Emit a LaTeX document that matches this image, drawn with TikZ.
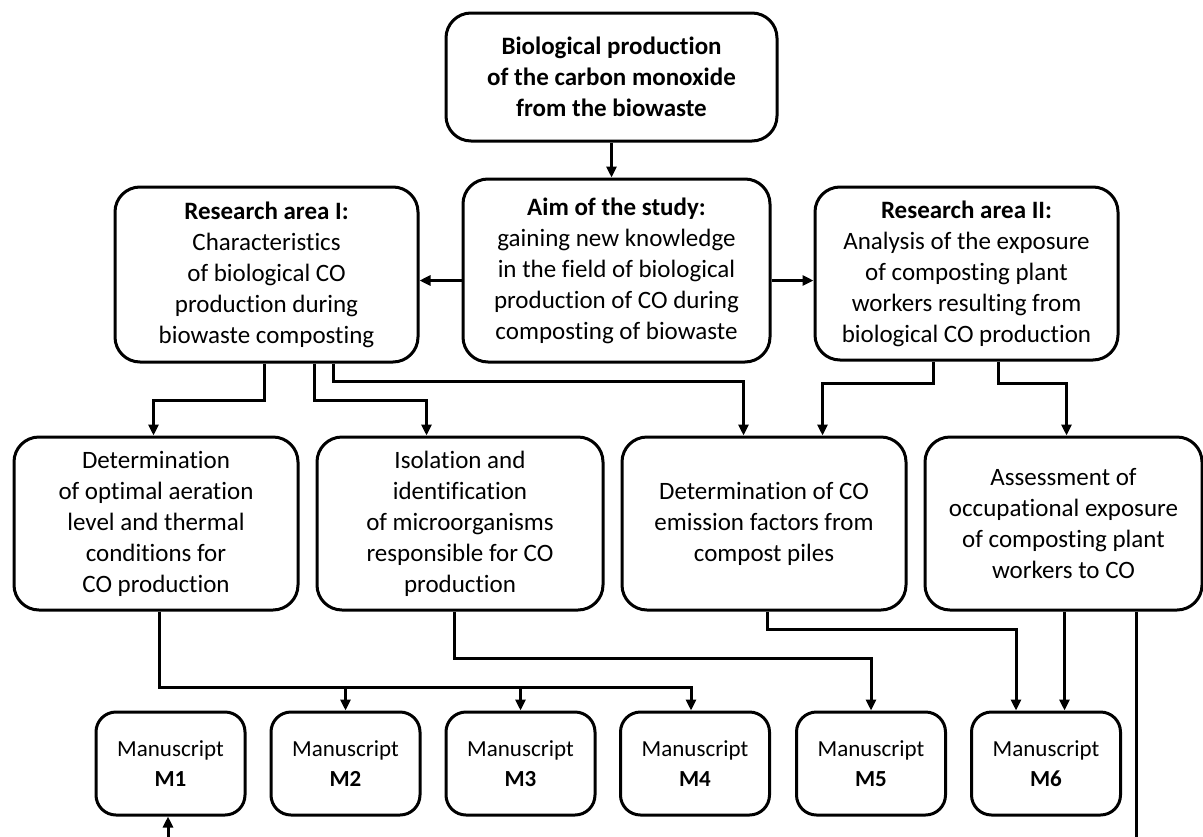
\documentclass[tikz,border=0pt]{standalone}
\usepackage{fontspec}
\setmainfont[Ligatures=NoCommon]{Carlito}
\usetikzlibrary{arrows.meta,calc}
\begin{document}
\begin{tikzpicture}[x=1pt,y=-1pt,
 box/.style={draw, line width=3pt, rounded corners=25pt, align=center, inner sep=0pt, font=\fontsize{25}{31}\selectfont},
 mbox/.style={box, rounded corners=20pt, minimum width=149pt, minimum height=103pt, font=\fontsize{23}{30}\selectfont},
 arr/.style={line width=3pt, -{Triangle[length=11pt,width=10pt]}},
 ln/.style={line width=3pt}]
\useasboundingbox (0,0) rectangle (1203,836);
\fill[white] (0,0) rectangle (1203,836);

\node[box, minimum width=331pt, minimum height=128pt, font=\fontsize{25}{31}\selectfont\bfseries] (top) at (611.5,77)
 {Biological production\\of the carbon monoxide\\from the biowaste};
\node[box, minimum width=307pt, minimum height=183pt] (aim) at (616.5,270.5)
 {\textbf{Aim of the study:}\\gaining new knowledge\\in the field of biological\\production of CO during\\composting of biowaste};
\node[box, minimum width=303pt, minimum height=175pt] (ra1) at (266.5,274.5)
 {\textbf{Research area I:}\\Characteristics\\of biological CO\\production during\\biowaste composting};
\node[box, minimum width=303pt, minimum height=173pt] (ra2) at (966.5,273.5)
 {\textbf{Research area II:}\\Analysis of the exposure\\of composting plant\\workers resulting from\\biological CO production};

\node[box, minimum width=284pt, minimum height=173pt] (A) at (156,523.5)
 {Determination\\of optimal aeration\\level and thermal\\conditions for\\CO production};
\node[box, minimum width=286pt, minimum height=173pt] (B) at (460,523.5)
 {Isolation and\\identification\\of microorganisms\\responsible for CO\\production};
\node[box, minimum width=284pt, minimum height=173pt] (C) at (764,523.5)
 {Determination of CO\\emission factors from\\compost piles};
\node[box, minimum width=277pt, minimum height=173pt] (D) at (1063.5,523.5)
 {Assessment of\\occupational exposure\\of composting plant\\workers to CO};

\node[mbox] (M1) at (170.5,763.5) {Manuscript\\\textbf{M1}};
\node[mbox] (M2) at (345.5,763.5) {Manuscript\\\textbf{M2}};
\node[mbox] (M3) at (520.5,763.5) {Manuscript\\\textbf{M3}};
\node[mbox] (M4) at (695,763.5) {Manuscript\\\textbf{M4}};
\node[mbox] (M5) at (871,763.5) {Manuscript\\\textbf{M5}};
\node[mbox] (M6) at (1046,763.5) {Manuscript\\\textbf{M6}};

% top to aim
\draw[arr] (top.south) -- (top.south |- aim.north);
% aim to research areas
\draw[arr] ($(aim.west)+(0,10)$) coordinate (pl) -- (pl -| ra1.east);
\draw[arr] ($(aim.east)+(0,10)$) coordinate (pr) -- (pr -| ra2.west);

% research area I
\draw[arr] ($(ra1.south west)+(151,0)$) -- ++(0,37) -| ($(A.north west)+(141,0)$);
\draw[arr] ($(ra1.south west)+(201,0)$) -- ++(0,37) -| ($(B.north west)+(111,0)$);
\draw[arr] ($(ra1.south west)+(220,0)$) -- ++(0,18) -| ($(C.north west)+(123,0)$);
% research area II
\draw[arr] ($(ra2.south west)+(120,0)$) -- ++(0,22) -| ($(C.north west)+(202,0)$);
\draw[arr] ($(ra2.south west)+(185,0)$) -- ++(0,22) -| ($(D.north west)+(143,0)$);

% A to M2, M3, M4
\draw[arr] ($(A.south west)+(147,0)$) -- ++(0,76) coordinate (abus) -| ($(M4.north west)+(72,0)$);
\draw[arr] (abus -| M2.north) -- (M2.north);
\draw[arr] (abus -| M3.north) -- (M3.north);
% B to M5
\draw[arr] ($(B.south west)+(139,0)$) -- ++(0,47) -| (M5.north);
% C to M6
\draw[arr] ($(C.south west)+(147,0)$) -- ++(0,18) -| ($(M6.north west)+(46,0)$);
% D to M6
\draw[arr] ($(D.south west)+(141,0)$) coordinate (q) -- (q |- M6.north);
% D outgoing line
\coordinate (dout) at (1138,840);
\draw[ln] ($(D.south west)+(213,0)$) coordinate (q2) -- (q2 |- dout);
% incoming to M1
\coordinate (m1in) at (168,840);
\draw[arr] (m1in) -- (m1in |- M1.south);
\end{tikzpicture}
\end{document}
